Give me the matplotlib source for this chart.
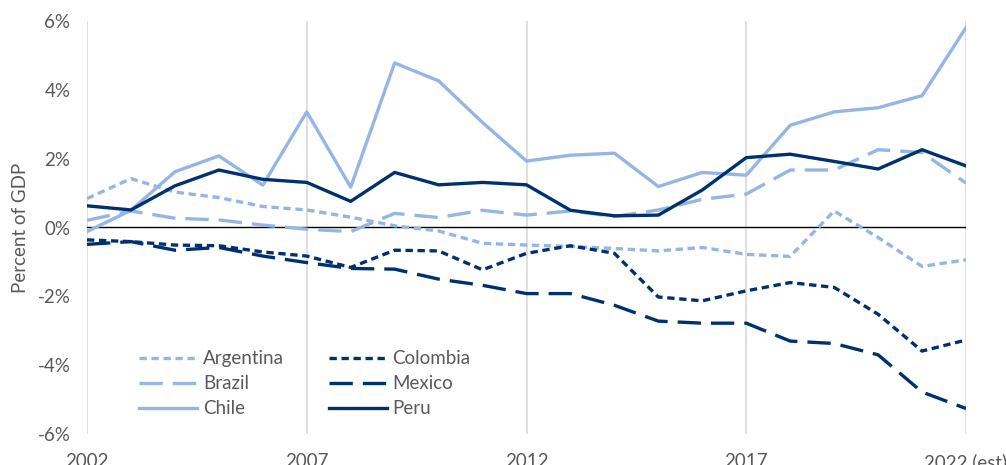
import matplotlib.pyplot as plt

years = list(range(2002, 2023))
tick_years = [2002, 2007, 2012, 2017, 2022]
tick_labels = ["2002", "2007", "2012", "2017", "2022 (est)"]

argentina = [0.84, 1.42, 1.03, 0.87, 0.61, 0.51, 0.30, 0.05, -0.10, -0.46, -0.51,
             -0.55, -0.61, -0.68, -0.58, -0.78, -0.84, 0.48, -0.29, -1.13, -0.94]
brazil = [0.21, 0.48, 0.27, 0.22, 0.07, -0.05, -0.12, 0.41, 0.29, 0.50, 0.36,
          0.48, 0.32, 0.51, 0.82, 0.97, 1.67, 1.67, 2.26, 2.18, 1.29]
chile = [-0.12, 0.50, 1.62, 2.08, 1.23, 3.36, 1.17, 4.78, 4.26, 3.05, 1.93,
         2.10, 2.16, 1.19, 1.60, 1.52, 2.97, 3.36, 3.48, 3.83, 5.81]
colombia = [-0.36, -0.41, -0.51, -0.53, -0.71, -0.83, -1.16, -0.66, -0.68, -1.23, -0.75,
            -0.53, -0.75, -2.02, -2.13, -1.84, -1.60, -1.74, -2.52, -3.59, -3.27]
mexico = [-0.49, -0.41, -0.66, -0.58, -0.83, -1.02, -1.19, -1.21, -1.50, -1.68, -1.92,
          -1.92, -2.26, -2.72, -2.78, -2.78, -3.30, -3.37, -3.70, -4.78, -5.26]
peru = [0.63, 0.51, 1.21, 1.67, 1.40, 1.31, 0.76, 1.60, 1.24, 1.31, 1.24,
        0.50, 0.34, 0.36, 1.09, 2.03, 2.13, 1.92, 1.70, 2.26, 1.79]

light = "#95b6e4"
dark = "#00306e"
grey = "#595959"

plt.rcParams['font.family'] = ['Lato', 'DejaVu Sans']

fig = plt.figure(figsize=(10.06, 4.65), dpi=100)
ax = fig.add_axes([87/1006, 1 - 434/465, (966 - 87)/1006, (434 - 21)/465])

lw = 2.4
ax.plot(years, argentina, color=light, lw=lw, dashes=(2.2, 1.4), label="Argentina")
ax.plot(years, brazil, color=light, lw=lw, dashes=(7, 3), label="Brazil")
ax.plot(years, chile, color=light, lw=lw, label="Chile")
ax.plot(years, colombia, color=dark, lw=lw, dashes=(2.2, 1.4), label="Colombia")
ax.plot(years, mexico, color=dark, lw=lw, dashes=(7, 3), label="Mexico")
ax.plot(years, peru, color=dark, lw=lw, label="Peru")

ax.axhline(0, color="black", lw=1, zorder=1)
for ty in tick_years:
    ax.axvline(ty, color="#d9d9d9", lw=1.2, zorder=0)

ax.set_xlim(2002, 2022)
ax.set_ylim(-6, 6)
ax.set_yticks([-6, -4, -2, 0, 2, 4, 6])
ax.set_yticklabels(["-6%", "-4%", "-2%", "0%", "2%", "4%", "6%"])
ax.set_xticks(tick_years)
ax.set_xticklabels(tick_labels)
ax.tick_params(length=0, labelsize=13.5, colors=grey)
ax.tick_params(axis="y", pad=12)
ax.tick_params(axis="x", pad=14)
ax.set_ylabel("Percent of GDP", fontsize=13.5, color=grey, labelpad=6)
for s in ax.spines.values():
    s.set_visible(False)

ax.legend(ncol=2, frameon=False, loc="lower left", bbox_to_anchor=(0.04, 0.0),
          fontsize=13.5, labelcolor=grey, handlelength=3.1, columnspacing=2.4,
          handletextpad=0.3, labelspacing=0.42)

fig.savefig("out.png", dpi=100)
